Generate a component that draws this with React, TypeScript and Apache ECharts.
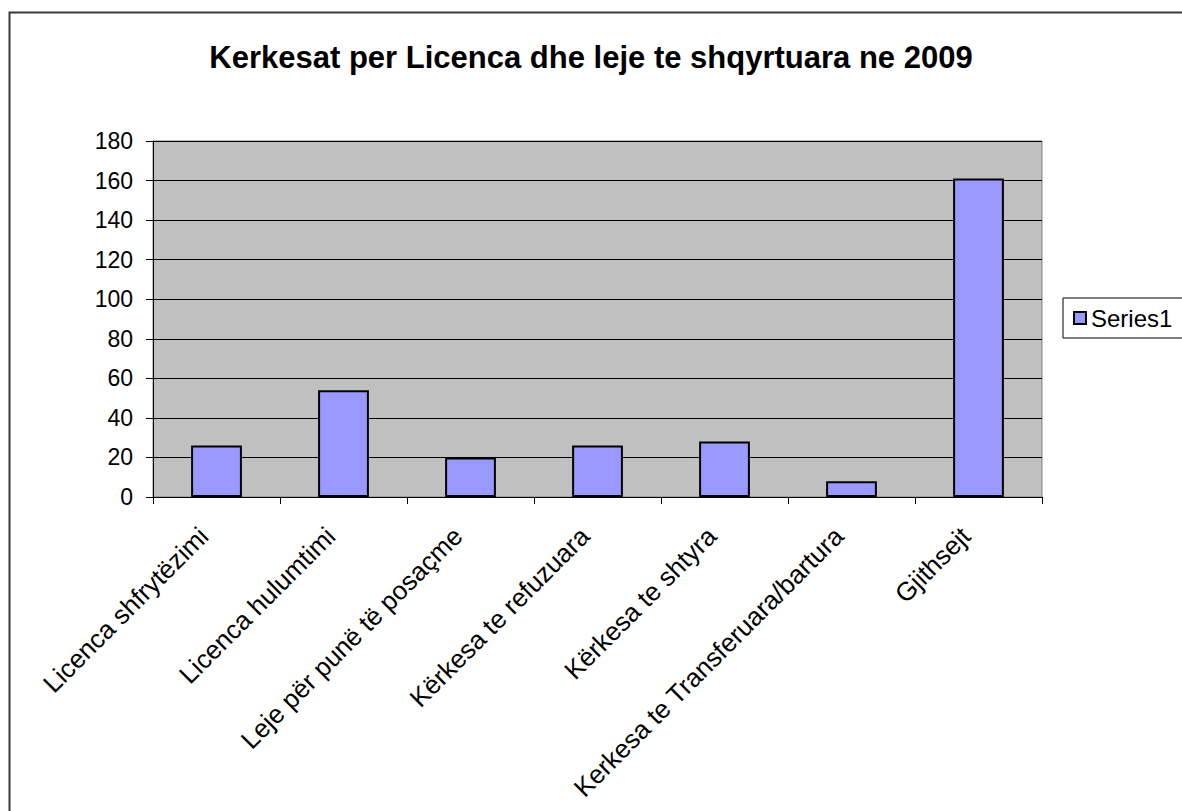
import React, { useEffect, useRef } from "react";
import * as echarts from "echarts";

const titleText = "Kerkesat per Licenca dhe leje te shqyrtuara ne 2009";
const categories = [
  "Licenca shfrytëzimi",
  "Licenca hulumtimi",
  "Leje për punë të posaçme",
  "Kërkesa te refuzuara",
  "Kërkesa te shtyra",
  "Kerkesa te Transferuara/bartura",
  "Gjithsejt",
];
const seriesName = "Series1";
const values = [26, 54, 20, 26, 28, 8, 161];
const yMin = 0;
const yMax = 180;
const yStep = 20;

const FONT = "Liberation Sans, Arial, sans-serif";

export default function App() {
  const ref = useRef<HTMLDivElement>(null);
  useEffect(() => {
    if (!ref.current) return;
    const chart = echarts.init(ref.current, null, { renderer: "svg" });
    chart.setOption({
      animation: false,
      backgroundColor: "#ffffff",
      textStyle: { fontFamily: FONT },
      title: {
        text: titleText,
        left: "center",
        top: 37,
        textStyle: { fontFamily: FONT, fontSize: 31, fontWeight: "bold", color: "#000" },
      },
      graphic: [
        {
          type: "rect",
          left: 7,
          top: 10,
          shape: { x: 0, y: 0, width: 1300, height: 900 },
          style: { fill: "none", stroke: "#3a3a3a", lineWidth: 2 },
          silent: true,
        },
      ],
      legend: {
        left: 1063,
        top: 298,
        orient: "vertical",
        padding: [8, 14, 8, 10],
        borderColor: "#000",
        borderWidth: 1,
        backgroundColor: "#fff",
        itemWidth: 12,
        itemHeight: 12,
        itemGap: 6,
        icon: "rect",
        textStyle: { fontFamily: FONT, fontSize: 24, color: "#000" },
        data: [seriesName],
      },
      grid: {
        left: 153,
        top: 141,
        right: 140,
        bottom: 314,
        show: true,
        backgroundColor: "#c0c0c0",
        borderColor: "#808080",
        borderWidth: 1,
        containLabel: false,
      },
      xAxis: {
        type: "category",
        data: categories,
        boundaryGap: true,
        axisLine: { show: true, lineStyle: { color: "#000", width: 1 } },
        axisTick: { show: true, alignWithLabel: false, length: 7, lineStyle: { color: "#000" } },
        axisLabel: {
          interval: 0,
          rotate: 45,
          margin: 22,
          padding: [0, 18, 0, 0],
          fontFamily: FONT,
          fontSize: 26,
          color: "#000",
        },
        splitLine: { show: false },
      },
      yAxis: {
        type: "value",
        min: yMin,
        max: yMax,
        interval: yStep,
        axisLine: { show: true, lineStyle: { color: "#000", width: 1 } },
        axisTick: { show: true, length: 7, lineStyle: { color: "#000" } },
        axisLabel: { margin: 20, fontFamily: FONT, fontSize: 23, color: "#000" },
        splitLine: { show: true, lineStyle: { color: "#000", width: 1 } },
      },
      series: [
        {
          name: seriesName,
          type: "bar",
          data: values,
          barWidth: "40%",
          itemStyle: { color: "#9999ff", borderColor: "#000", borderWidth: 2 },
        },
      ],
    });
    return () => chart.dispose();
  }, []);
  return (
    <div
      ref={ref}
      style={{ position: "absolute", left: 0, top: 0, width: 1182, height: 811 }}
    />
  );
}
